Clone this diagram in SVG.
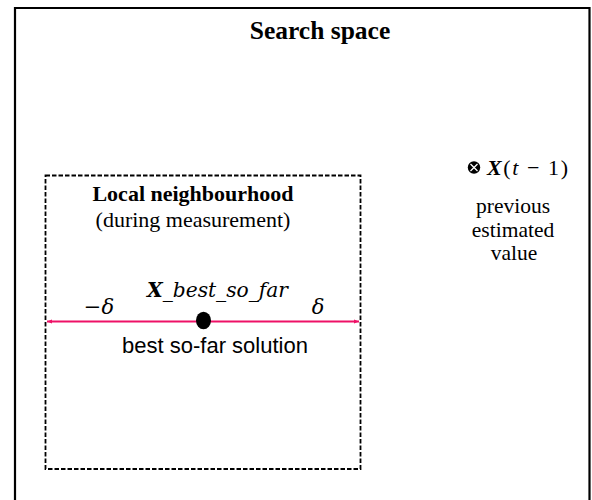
<svg xmlns="http://www.w3.org/2000/svg" width="592" height="500" viewBox="0 0 592 500">
<defs>
<style>
.serif{font-family:"Liberation Serif","Times New Roman",serif;fill:#000}
.sans{font-family:"Liberation Sans",Arial,sans-serif;fill:#000}
.math{font-family:"DejaVu Serif","Liberation Serif",serif;font-style:italic;fill:#000}
</style>
<marker id="ah" viewBox="0 0 10 10" refX="10" refY="5" markerWidth="5" markerHeight="5" orient="auto-start-reverse" markerUnits="userSpaceOnUse">
<path d="M0,1 L10,5 L0,9 z" fill="#EE1166"/>
</marker>
</defs>
<rect x="0" y="0" width="592" height="500" fill="#fff"/>
<g id="search-space">
<path d="M15,502 V8 H589.5 V502" fill="none" stroke="#000" stroke-width="2.2"/>
<text class="serif" x="320" y="39" font-size="25.5" font-weight="bold" text-anchor="middle">Search space</text>
</g>
<g id="local-neighbourhood">
<rect x="45.5" y="175.5" width="315" height="293.5" fill="none" stroke="#000" stroke-width="1.8" stroke-dasharray="4.5,2"/>
<text class="serif" x="193" y="200.5" font-size="22" font-weight="bold" text-anchor="middle">Local neighbourhood</text>
<text class="serif" x="193" y="226.5" font-size="22" text-anchor="middle">(during measurement)</text>
</g>
<g id="connectors">
<line x1="47" y1="321.5" x2="359" y2="321.5" stroke="#EE1166" stroke-width="1.8" marker-start="url(#ah)" marker-end="url(#ah)"/>
</g>
<g id="best-so-far">
<ellipse cx="203.5" cy="320.5" rx="7.5" ry="8.8" fill="#000"/>
<text class="math" x="217.5" y="296.5" font-size="20" text-anchor="middle" textLength="141" lengthAdjust="spacingAndGlyphs"><tspan font-weight="bold">X</tspan>_best_so_far</text>
<text class="math" x="99" y="314" font-size="21" text-anchor="middle" font-style="normal">−<tspan font-style="italic">δ</tspan></text>
<text class="math" x="318" y="314" font-size="21" text-anchor="middle">δ</text>
<text class="sans" x="215" y="352.5" font-size="22" text-anchor="middle">best so-far solution</text>
</g>
<g id="previous-estimate">
<circle cx="474" cy="167.5" r="6.2" fill="#000"/>
<path d="M470.5,164 L477.5,171 M477.5,164 L470.5,171" stroke="#fff" stroke-width="1.3"/>
<text class="serif" x="487" y="175" font-size="22" textLength="81" lengthAdjust="spacing"><tspan font-weight="bold" font-style="italic">X</tspan>(<tspan font-style="italic">t</tspan> − 1)</text>
<text class="serif" x="513" y="213" font-size="21.5" text-anchor="middle">previous</text>
<text class="serif" x="513" y="236.5" font-size="21.5" text-anchor="middle">estimated</text>
<text class="serif" x="514" y="260" font-size="21.5" text-anchor="middle">value</text>
</g>
</svg>
